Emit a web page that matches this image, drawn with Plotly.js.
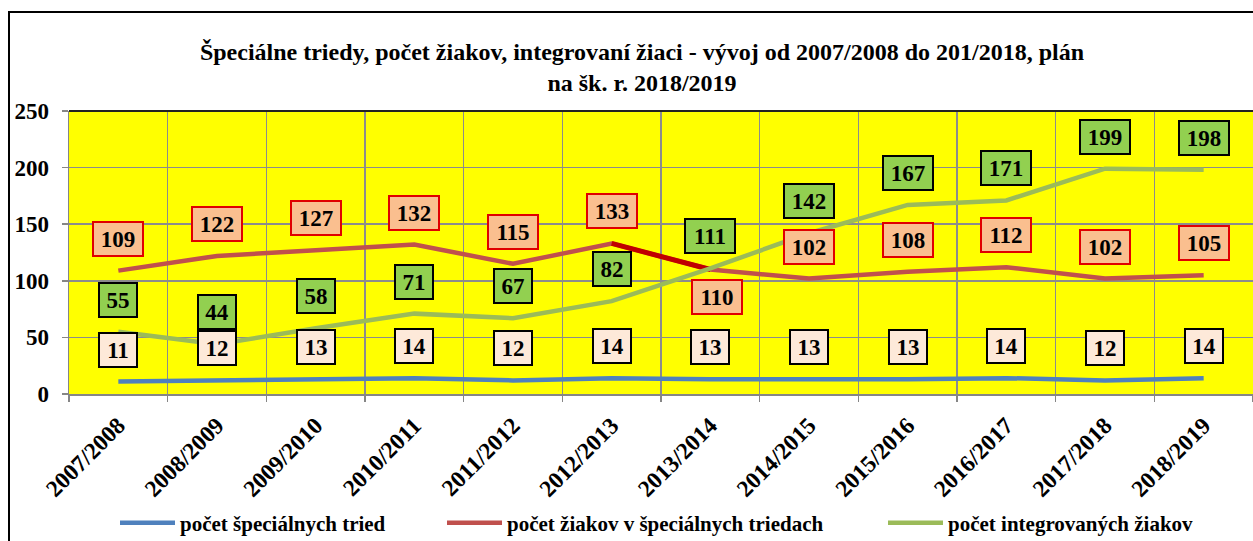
<!DOCTYPE html>
<html>
<head>
<meta charset="utf-8">
<script src="https://cdn.plot.ly/plotly-3.0.1.min.js"></script>
</head>
<body style="margin:0">
<div id="chart"></div>
<script>
const categories = ["2007/2008","2008/2009","2009/2010","2010/2011","2011/2012","2012/2013","2013/2014","2014/2015","2015/2016","2016/2017","2017/2018","2018/2019"];
const specialClasses = [11,12,13,14,12,14,13,13,13,14,12,14];
const pupilsInClasses = [109,122,127,132,115,133,110,102,108,112,102,105];
const integratedPupils = [55,44,58,71,67,82,111,142,167,171,199,198];
const seriesNames = ["počet špeciálnych tried","počet žiakov v špeciálnych triedach","počet integrovaných žiakov"];
const titleText = "Špeciálne triedy, počet žiakov, integrovaní žiaci - vývoj od 2007/2008 do 201/2018, plán<br>na šk. r. 2018/2019";

const W = 1253, H = 541, ML = 69, MT = 111, MB = 147, MR = 0;
const plotH = H - MT - MB, plotW = W - ML - MR;
const px2x = p => (p - ML) / plotW;
const px2y = p => (H - MB - p) / plotH;
const bf = size => ({family: 'Liberation Serif', size: size, color: '#000000', weight: 'bold'});

const traces = [
  {x: categories, y: specialClasses, name: seriesNames[0], type: 'scatter', mode: 'lines',
   line: {color: '#4F81BD', width: 4.5}, legend: 'legend'},
  {x: categories, y: pupilsInClasses, name: seriesNames[1], type: 'scatter', mode: 'lines',
   line: {color: '#C0504D', width: 4.5}, legend: 'legend2'},
  {x: categories.slice(5, 7), y: pupilsInClasses.slice(5, 7), showlegend: false, hoverinfo: 'skip',
   type: 'scatter', mode: 'lines', line: {color: '#C00000', width: 5}},
  {x: categories, y: integratedPupils, name: seriesNames[2], type: 'scatter', mode: 'lines',
   line: {color: '#9BBB59', width: 4.5}, legend: 'legend3'}
];

function labels(vals, bg, border, shifts) {
  return vals.map((v, i) => {
    const s = String(v);
    const sh = shifts[i] || {};
    return {
      x: categories[i], y: v, xref: 'x', yref: 'y', text: s, showarrow: false,
      yshift: sh.y !== undefined ? sh.y : 32, xshift: sh.x || 0,
      bgcolor: bg, bordercolor: border, borderwidth: 2, borderpad: 1,
      width: s.length >= 3 ? 46 : 34, height: 30,
      font: bf(23)
    };
  });
}

const annotations = [].concat(
  labels(pupilsInClasses, '#FABF8F', '#E00000', {6: {y: -28, x: 7}}),
  labels(integratedPupils, '#92D050', '#000000', {}),
  labels(specialClasses, '#FDE9D9', '#000000', {})
);

function legendAt(pxX) {
  return {orientation: 'h', x: px2x(pxX), xanchor: 'left', y: px2y(523), yanchor: 'middle',
          font: bf(21), bgcolor: 'rgba(0,0,0,0)', itemwidth: 55};
}

const layout = {
  width: W, height: H,
  margin: {l: ML, r: MR, t: MT, b: MB, autoexpand: false},
  paper_bgcolor: '#ffffff', plot_bgcolor: '#FFFF00',
  title: {text: titleText, x: px2x(642), xref: 'paper', xanchor: 'center',
          y: 1 - 60 / H, yref: 'container', yanchor: 'middle', font: bf(24)},
  xaxis: {type: 'category', tickangle: -45, tickson: 'boundaries', ticks: 'outside', ticklen: 6,
          tickcolor: '#868686', tickwidth: 1.5, showgrid: true, gridcolor: '#8C8C8C', gridwidth: 1.5,
          showline: true, linecolor: '#868686', linewidth: 1.5, range: [-0.5, 11.5],
          ticklabelstandoff: 7, tickfont: bf(23.5)},
  yaxis: {range: [0, 250], dtick: 50, tick0: 0, ticks: 'outside', ticklen: 6, tickcolor: '#868686',
          tickwidth: 1.5, showgrid: true, gridcolor: '#8C8C8C', gridwidth: 1.5, zeroline: false,
          showline: true, linecolor: '#868686', linewidth: 1.5,
          ticklabelstandoff: 8, tickfont: bf(23)},
  showlegend: true,
  legend: legendAt(115),
  legend2: legendAt(442),
  legend3: legendAt(883),
  annotations: annotations,
  shapes: [
    {type: 'line', xref: 'paper', yref: 'paper', x0: 0, x1: 1.01, y0: 1, y1: 1,
     line: {color: '#222', width: 2}},
    {type: 'line', xref: 'paper', yref: 'paper', x0: px2x(9), x1: px2x(9), y0: px2y(12), y1: px2y(560),
     line: {color: '#000', width: 2}},
    {type: 'line', xref: 'paper', yref: 'paper', x0: px2x(8), x1: px2x(1270), y0: px2y(12), y1: px2y(12),
     line: {color: '#000', width: 2}}
  ]
};

Plotly.newPlot('chart', traces, layout, {staticPlot: true});
</script>
</body>
</html>
